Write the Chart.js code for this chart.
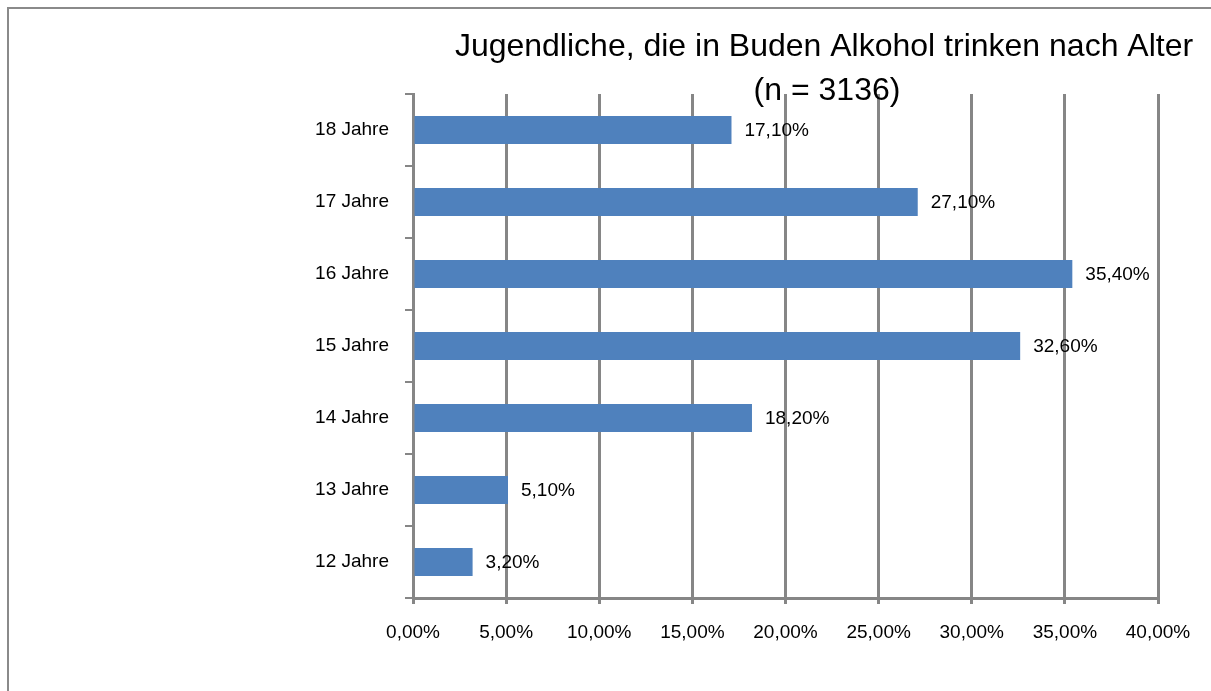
<!DOCTYPE html>
<html lang="de">
<head>
<meta charset="utf-8">
<title>Jugendliche, die in Buden Alkohol trinken nach Alter</title>
<script src="https://cdn.jsdelivr.net/npm/chart.js@4/dist/chart.umd.min.js"></script>
<style>
    html, body { margin: 0; padding: 0; background: #fff; overflow: hidden; }
    .frame {
        position: absolute; left: 7px; top: 7px;
        width: 1400px; height: 900px;
        border: 2px solid #8a8a8a;
    }
    .wrap { position: absolute; left: 0; top: 0; width: 1211px; height: 691px; }
</style>
</head>
<body>
<div class="frame"></div>
<div class="wrap"><canvas id="barChart"></canvas></div>
<script>
// --- DATA ---
const ages = ['12 Jahre', '13 Jahre', '14 Jahre', '15 Jahre', '16 Jahre', '17 Jahre', '18 Jahre'];
const shares = [3.2, 5.1, 18.2, 32.6, 35.4, 27.1, 17.1];
const titleLines = ['Jugendliche, die in Buden Alkohol trinken nach Alter', '(n = 3136)'];
const axisMin = 0;
const axisMax = 40;
const axisStep = 5;

const FONT = '"Liberation Sans", Arial, sans-serif';
const GRID = '#868686';

function pct(v) {
    return v.toFixed(2).replace('.', ',') + '%';
}

// Title drawn over the right part of the frame, like the original
const titlePlugin = {
    id: 'sideTitle',
    afterDraw(chart) {
        const ctx = chart.ctx;
        ctx.save();
        ctx.font = '32px ' + FONT;
        ctx.fillStyle = '#000';
        ctx.textAlign = 'center';
        ctx.textBaseline = 'alphabetic';
        ctx.fillText(titleLines[0], 824, 56);
        ctx.fillText(titleLines[1], 827, 100);
        ctx.restore();
    }
};

// Value labels right of each bar
const valueLabels = {
    id: 'valueLabels',
    afterDatasetsDraw(chart) {
        const ctx = chart.ctx;
        const meta = chart.getDatasetMeta(0);
        ctx.save();
        ctx.font = '19px ' + FONT;
        ctx.fillStyle = '#000';
        ctx.textAlign = 'left';
        ctx.textBaseline = 'middle';
        meta.data.forEach((bar, i) => {
            ctx.fillText(pct(shares[i]), bar.x + 13, bar.y + 1);
        });
        ctx.restore();
    }
};

const ctx = document.getElementById('barChart').getContext('2d');
new Chart(ctx, {
    type: 'bar',
    data: {
        labels: ages,
        datasets: [{
            data: shares,
            backgroundColor: '#4F81BD',
            borderWidth: 0,
            barPercentage: 0.39,
            categoryPercentage: 1
        }]
    },
    options: {
        indexAxis: 'y',
        responsive: true,
        maintainAspectRatio: false,
        animation: false,
        layout: { padding: { top: 94, right: 53, bottom: 43, left: 0 } },
        plugins: {
            legend: { display: false },
            title: { display: false },
            tooltip: { enabled: false }
        },
        scales: {
            x: {
                min: axisMin,
                max: axisMax,
                ticks: {
                    stepSize: axisStep,
                    color: '#000',
                    font: { family: FONT, size: 19 },
                    padding: 17,
                    maxRotation: 0,
                    callback: v => pct(v)
                },
                grid: { color: GRID, lineWidth: 3, tickLength: 6 },
                border: { color: GRID, width: 3 },
                afterFit(scale) { scale.height = 50; }
            },
            y: {
                reverse: true,
                ticks: {
                    color: '#000',
                    font: { family: FONT, size: 19 },
                    padding: 16
                },
                grid: {
                    drawOnChartArea: false,
                    color: GRID,
                    lineWidth: 2,
                    tickLength: 8
                },
                border: { color: GRID, width: 3 },
                afterFit(scale) { scale.width = 413; }
            }
        }
    },
    plugins: [titlePlugin, valueLabels]
});
</script>
</body>
</html>
